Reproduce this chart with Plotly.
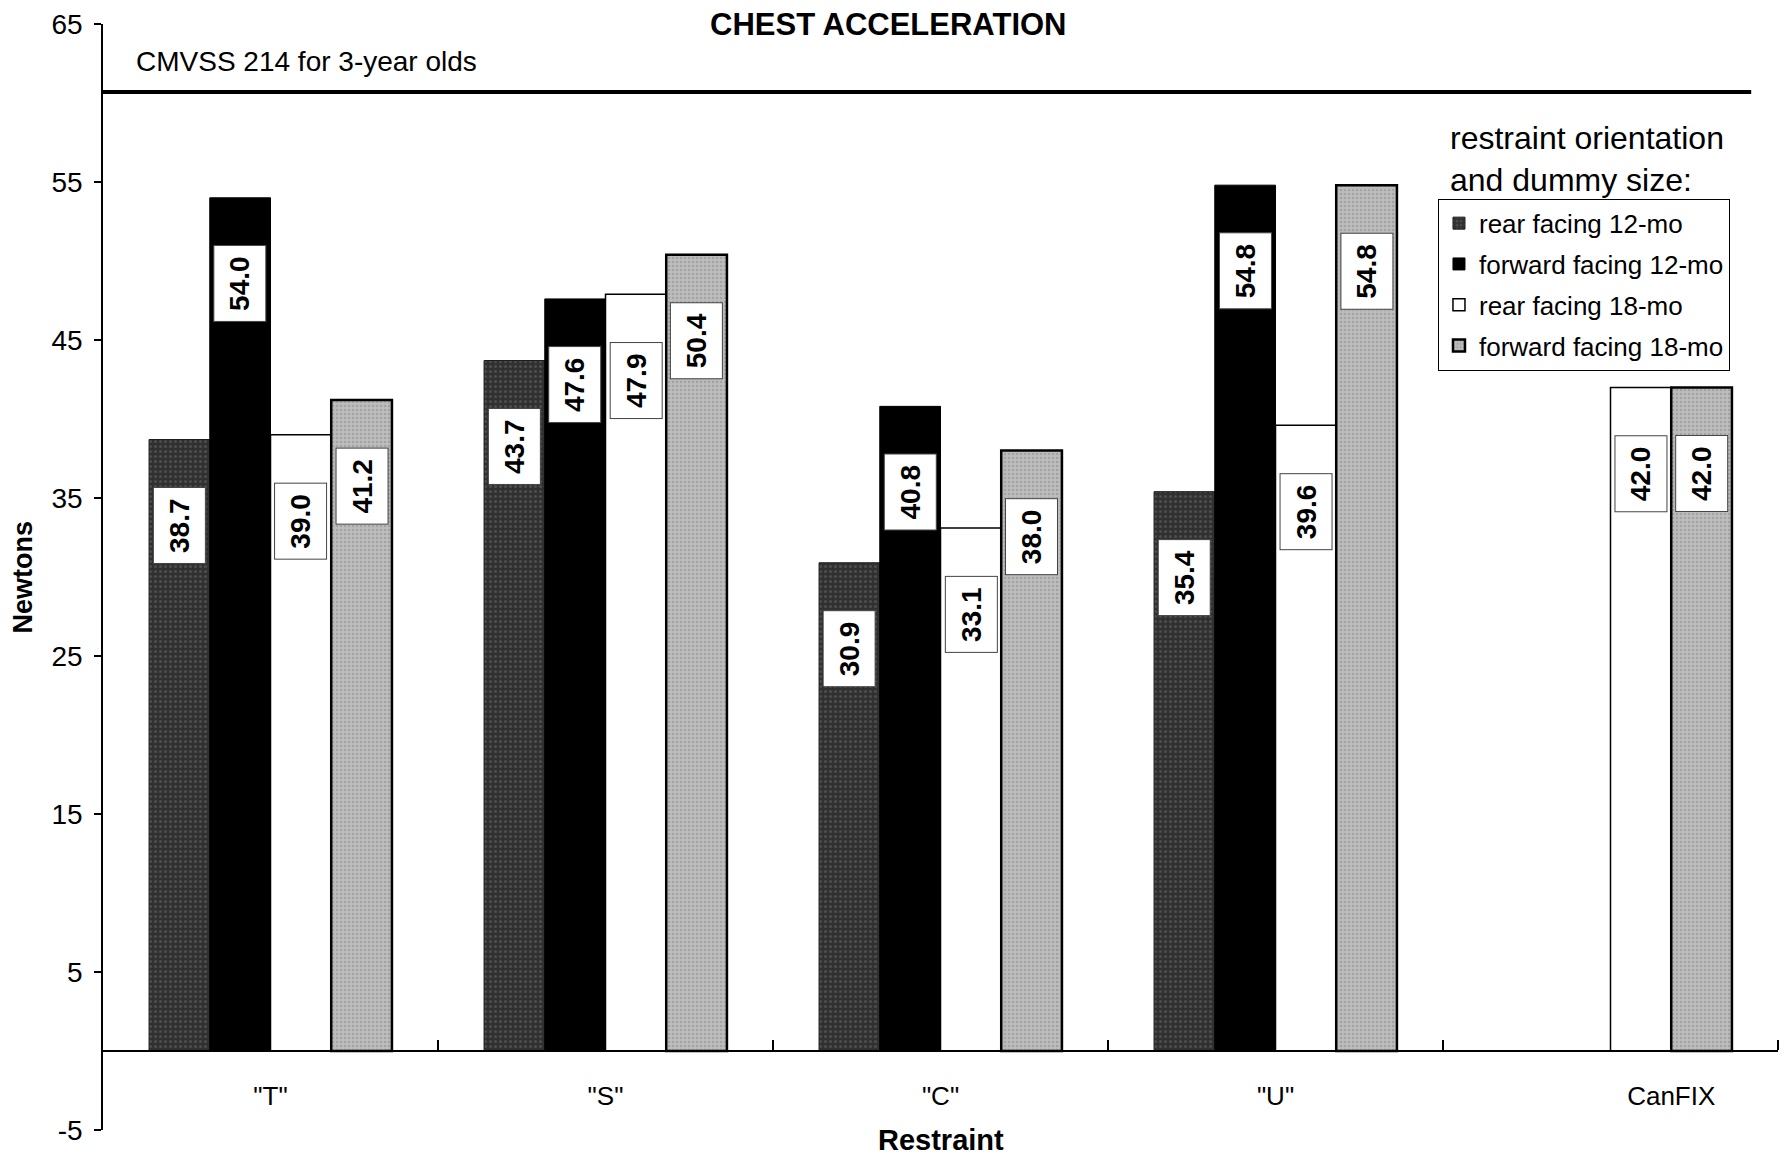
import plotly.graph_objects as go

# ---------------- data ----------------
categories = ['"T"', '"S"', '"C"', '"U"', 'CanFIX']
series_names = ["rear facing 12-mo", "forward facing 12-mo",
                "rear facing 18-mo", "forward facing 18-mo"]
rear_12 = [38.7, 43.7, 30.9, 35.4, None]
forward_12 = [54.0, 47.6, 40.8, 54.8, None]
rear_18 = [39.0, 47.9, 33.1, 39.6, 42.0]
forward_18 = [41.2, 50.4, 38.0, 54.8, 42.0]
limit_value = 60.7
limit_label = "CMVSS 214 for 3-year olds"
y_ticks = [-5, 5, 15, 25, 35, 45, 55, 65]
y_tick_text = ["-5", "5", "15", "25", "35", "45", "55", "65"]
chart_title = "CHEST ACCELERATION"
legend_title = "restraint orientation<br>and dummy size:"
y_title = "Newtons"
x_title = "Restraint"

# ---------------- layout constants ----------------
FONT = "Liberation Sans, Arial, sans-serif"
BARGAP = 0.275
Y_MIN, Y_MAX = -5, 65
series_values = [rear_12, forward_12, rear_18, forward_18]
n_series = len(series_values)
bar_w = (1 - BARGAP) / n_series
xs = list(range(len(categories)))

styles = [
    dict(color="#333333", line=dict(color="#1a1a1a", width=1),
         pattern=dict(shape=".", bgcolor="#303030", fgcolor="#6a6a6a",
                      size=5, solidity=0.3)),
    dict(color="#000000", line=dict(color="#000000", width=1)),
    dict(color="#ffffff", line=dict(color="#000000", width=1.5)),
    dict(color="#b8b8b8", line=dict(color="#000000", width=2.5),
         pattern=dict(shape=".", bgcolor="#bcbcbc", fgcolor="#8a8a8a",
                      size=4, solidity=0.3)),
]

fig = go.Figure()
for k, (name, vals, st) in enumerate(zip(series_names, series_values, styles)):
    fig.add_trace(go.Bar(x=xs, y=vals, name=name, marker=st,
                         legendgroup=f"g{k}"))

# value labels (white boxes, rotated)
annotations = []
for k, vals in enumerate(series_values):
    off = (k - (n_series - 1) / 2) * bar_w
    for i, v in enumerate(vals):
        if v is None:
            continue
        annotations.append(dict(
            x=i + off, y=v, xref="x", yref="y", yshift=-86,
            text=f"<b>{v:.1f}</b>", textangle=-90, showarrow=False,
            font=dict(family=FONT, size=28, color="black"),
            bgcolor="white", bordercolor="#444444", borderwidth=1, borderpad=10,
            xanchor="center", yanchor="middle"))

# category tick positions: centred on the bars present in each group
tick_x = []
for i in xs:
    offs = [(k - (n_series - 1) / 2) * bar_w for k in range(n_series)
            if series_values[k][i] is not None]
    tick_x.append(i + sum(offs) / len(offs))

annotations += [
    dict(text=f"<b>{chart_title}</b>", xref="paper", yref="y", x=0.469, y=Y_MAX,
         xanchor="center", yanchor="middle", showarrow=False,
         font=dict(family=FONT, size=31, color="black")),
    dict(text=limit_label, xref="paper", yref="y", x=0.0185, y=limit_value,
         yshift=30, xanchor="left", yanchor="middle", showarrow=False,
         font=dict(family=FONT, size=28, color="black")),
    dict(text=legend_title, xref="paper", yref="paper", x=0.803, y=0.915,
         xanchor="left", yanchor="top", align="left", showarrow=False,
         font=dict(family=FONT, size=32, color="black")),
    dict(text=f"<b>{y_title}</b>", xref="paper", yref="paper", x=-0.048, y=0.5,
         textangle=-90, xanchor="center", yanchor="middle", showarrow=False,
         font=dict(family=FONT, size=27, color="black")),
    dict(text=f"<b>{x_title}</b>", xref="paper", yref="paper", x=0.5, y=-0.0086,
         xanchor="center", yanchor="middle", showarrow=False,
         font=dict(family=FONT, size=29, color="black")),
]

fig.update_layout(
    width=1787, height=1157,
    margin=dict(l=103, r=9, t=20, b=27),
    paper_bgcolor="white", plot_bgcolor="white",
    barmode="group", bargap=BARGAP, bargroupgap=0,
    font=dict(family=FONT, color="black"),
    showlegend=True,
    legend=dict(x=0.797, y=0.842, xanchor="left", yanchor="top",
                bgcolor="white", bordercolor="black", borderwidth=1,
                font=dict(family=FONT, size=26, color="black"),
                tracegroupgap=4),
    annotations=annotations,
    shapes=[dict(type="line", xref="paper", yref="y", x0=0, x1=0.984,
                 y0=limit_value, y1=limit_value,
                 line=dict(color="black", width=4))],
    xaxis=dict(range=[-0.5, len(categories) - 0.5],
               tickmode="array", tickvals=tick_x, ticktext=categories,
               ticks="", showline=True, linecolor="black", linewidth=1.5,
               anchor="free", position=(0 - Y_MIN) / (Y_MAX - Y_MIN),
               ticklabelstandoff=22,
               minor=dict(tickmode="array", tickvals=[i + 0.5 for i in xs],
                          ticks="inside", ticklen=10, tickcolor="black", tickwidth=1.5),
               showgrid=False, zeroline=False,
               tickfont=dict(family=FONT, size=26, color="black")),
    yaxis=dict(range=[Y_MIN, Y_MAX], tickmode="array", tickvals=y_ticks,
               ticktext=y_tick_text, ticklabelstandoff=6,
               ticks="outside", ticklen=7, tickcolor="black", tickwidth=1.5,
               showline=True, linecolor="black", linewidth=1.5,
               showgrid=False, zeroline=False,
               tickfont=dict(family=FONT, size=28, color="black")),
)

fig.write_html("out.html")
